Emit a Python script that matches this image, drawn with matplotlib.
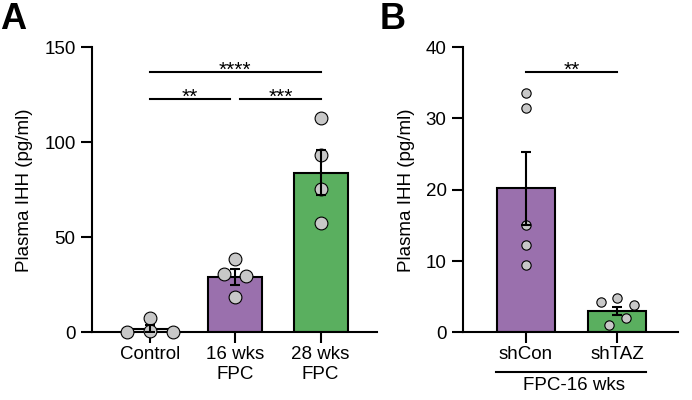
import numpy as np
import matplotlib
matplotlib.use("Agg")
import matplotlib.pyplot as plt

plt.rcParams['font.family'] = ['Liberation Sans', 'DejaVu Sans']

# panel A data
a_groups = ["Control", "16 wks\nFPC", "28 wks\nFPC"]
a_means = [2.0, 29.0, 84.0]
a_sems = [1.8, 4.2, 11.7]
a_points = [[0.0, 0.5, 0.0, 7.5],
            [38.8, 30.9, 29.8, 18.6],
            [112.5, 93.2, 75.3, 57.5]]
a_offsets = [[-0.27, 0.0, 0.27, 0.0],
             [0.0, -0.13, 0.13, 0.0],
             [0.0, 0.0, 0.0, 0.0]]
a_colors = ["white", "#9A70AD", "#5AAF5F"]

# panel B data
b_groups = ["shCon", "shTAZ"]
b_means = [20.2, 3.0]
b_sems = [5.1, 0.6]
b_points = [[33.6, 31.5, 15.0, 12.2, 9.5],
            [4.25, 4.8, 3.9, 2.0, 1.0]]
b_offsets = [[0, 0, 0, 0, 0],
             [-0.18, 0.0, 0.19, 0.10, -0.09]]
b_colors = ["#9A70AD", "#5AAF5F"]

fig = plt.figure(figsize=(6.92, 4.0), dpi=100)
axA = fig.add_axes([92.3 / 692, 0.169, (377 - 92.3) / 692, 0.713])
axB = fig.add_axes([463.3 / 692, 0.169, (678 - 463.3) / 692, 0.713])


def draw(ax, groups, means, sems, points, offsets, colors, ms):
    x = np.arange(len(groups))
    ax.bar(x, means, width=0.63, color=colors, edgecolor="black", linewidth=1.5, zorder=2)
    for i in range(len(groups)):
        ax.scatter(x[i] + np.array(offsets[i]), points[i], s=ms, color="#C8C8C8",
                   edgecolor="black", linewidth=0.8, zorder=3, clip_on=False)
    ax.errorbar(x, means, yerr=sems, fmt="none", ecolor="black", elinewidth=1.5,
                capsize=3.5, capthick=1.5, zorder=4)
    ax.set_xticks(x)
    ax.set_xticklabels(groups)
    for s in ["top", "right"]:
        ax.spines[s].set_visible(False)
    for s in ["left", "bottom"]:
        ax.spines[s].set_linewidth(1.5)
    ax.tick_params(width=1.5, length=8, labelsize=13.5)
    ax.tick_params(axis="y", pad=4)
    ax.tick_params(axis="x", pad=2)
    ax.set_ylabel("Plasma IHH (pg/ml)", fontsize=13.5, labelpad=8)


def sig(ax, x1, x2, y, text):
    ax.plot([x1, x2], [y, y], color="black", linewidth=1.5, clip_on=False)
    ax.annotate(text, xy=((x1 + x2) / 2, y), xytext=(0, -2.5), textcoords="offset points",
                ha="center", va="baseline", fontsize=15)


draw(axA, a_groups, a_means, a_sems, a_points, a_offsets, a_colors, 85)
axA.set_ylim(0, 150)
axA.set_yticks([0, 50, 100, 150])
axA.set_xlim(-0.676, 2.66)
sig(axA, 0, 2, 137, "****")
sig(axA, 0, 0.94, 122.5, "**")
sig(axA, 1.06, 2, 122.5, "***")

draw(axB, b_groups, b_means, b_sems, b_points, b_offsets, b_colors, 45)
axB.set_ylim(0, 40)
axB.set_yticks([0, 10, 20, 30, 40])
axB.set_xlim(-0.686, 1.67)
sig(axB, 0, 1, 36.5, "**")

# group bracket under panel B
fig.add_artist(plt.Line2D([496 / 692, 645.7 / 692], [1 - 372.3 / 400, 1 - 372.3 / 400],
                          color="black", linewidth=1.5))
fig.text(573.7 / 692, 1 - 390 / 400, "FPC-16 wks", ha="center", va="baseline", fontsize=13.5)

fig.text(0.0, 0.995, "A", fontsize=26, fontweight="bold", va="top", ha="left")
fig.text(0.549, 0.995, "B", fontsize=26, fontweight="bold", va="top", ha="left")

fig.savefig("out.png", dpi=100)
